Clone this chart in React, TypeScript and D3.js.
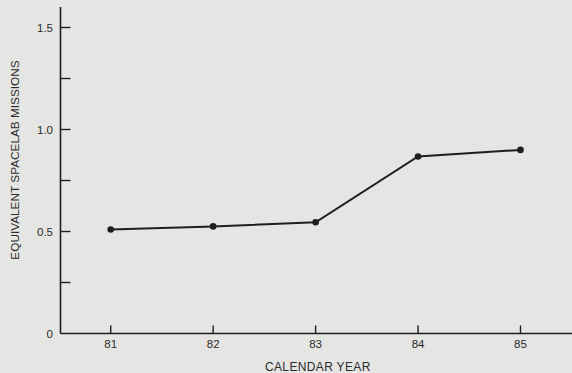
import React from "react";
import * as d3 from "d3";

const years = [81, 82, 83, 84, 85];
const missions = [0.51, 0.525, 0.545, 0.868, 0.9];
const yMajorTicks = [0, 0.5, 1.0, 1.5];
const yMinorTicks = [0.25, 0.75, 1.25];
const yTickLabels = ["0", "0.5", "1.0", "1.5"];

const W = 572;
const H = 373;

export default function App() {
  const x = d3.scaleLinear().domain([81, 85]).range([110.7, 520.5]);
  const y = d3.scaleLinear().domain([0, 1.5]).range([333.5, 27.5]);
  const line = d3
    .line<number>()
    .x((_, i) => x(years[i]))
    .y((d) => y(d));
  const axisX = 60.5;
  const axisY = y(0);
  const font = "'Liberation Sans', Arial, Helvetica, sans-serif";
  const ink = "#1e1e1e";
  const txt = "#2a2a2a";
  return (
    <svg
      width={W}
      height={H}
      style={{ position: "absolute", left: 0, top: 0 }}
      fontFamily={font}
    >
      <rect x={0} y={0} width={W} height={H} fill="#e5e5e3" />
      <line x1={axisX} x2={axisX} y1={7} y2={axisY} stroke={ink} strokeWidth={1.6} />
      <line x1={axisX} x2={W} y1={axisY} y2={axisY} stroke={ink} strokeWidth={1.6} />
      {yMajorTicks.map((t, i) => (
        <g key={"ym" + t}>
          {t !== 0 && (
            <line x1={axisX} x2={axisX + 10} y1={y(t)} y2={y(t)} stroke={ink} strokeWidth={1.4} />
          )}
          <text x={53} y={y(t) + 4.5} textAnchor="end" fontSize={11.5} fill={txt}>
            {yTickLabels[i]}
          </text>
        </g>
      ))}
      {yMinorTicks.map((t) => (
        <line key={"yn" + t} x1={axisX} x2={axisX + 10} y1={y(t)} y2={y(t)} stroke={ink} strokeWidth={1.4} />
      ))}
      {years.map((yr) => (
        <g key={"x" + yr}>
          <line x1={x(yr)} x2={x(yr)} y1={axisY} y2={axisY - 8} stroke={ink} strokeWidth={1.4} />
          <text x={x(yr)} y={axisY + 14} textAnchor="middle" fontSize={11.5} fill={txt}>
            {yr}
          </text>
        </g>
      ))}
      <text x={265} y={370.5} fontSize={12} letterSpacing={0.35} fill={txt}>
        CALENDAR YEAR
      </text>
      <text
        transform={`translate(18.5, 160) rotate(-90)`}
        textAnchor="middle"
        fontSize={11.8}
        fill={txt}
      >
        EQUIVALENT SPACELAB MISSIONS
      </text>
      <path d={line(missions) || ""} fill="none" stroke={ink} strokeWidth={2} />
      {missions.map((m, i) => (
        <circle key={"p" + i} cx={x(years[i])} cy={y(m)} r={3.3} fill={ink} />
      ))}
    </svg>
  );
}
